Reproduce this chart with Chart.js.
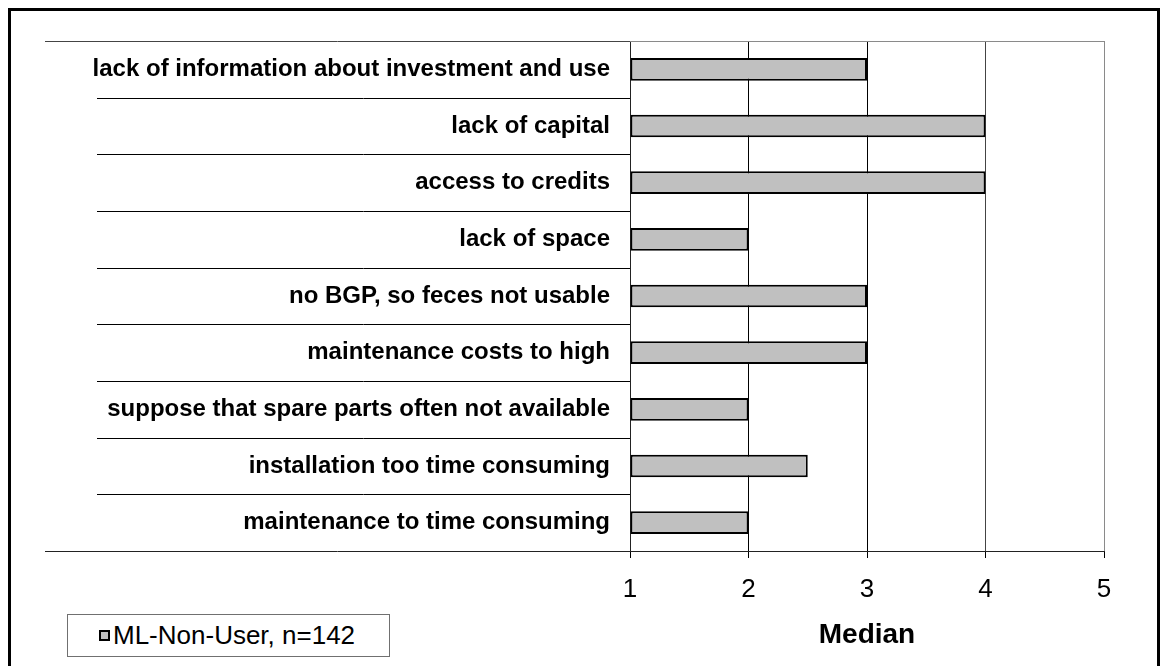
<!DOCTYPE html>
<html>
<head>
<meta charset="utf-8">
<script src="https://cdn.jsdelivr.net/npm/chart.js@4.4.1/dist/chart.umd.min.js"></script>
<style>
  html, body { margin: 0; padding: 0; background: #fff; }
  #wrap { position: relative; width: 1160px; height: 666px; overflow: hidden; background: #fff; }
  #frame { position: absolute; left: 8px; top: 8px; width: 1152px; height: 700px; border: 3px solid #000; box-sizing: border-box; pointer-events: none; }
  canvas { position: absolute; left: 0; top: 0; }
  #legend { position: absolute; left: 67px; top: 614px; width: 323px; height: 43px; box-sizing: border-box;
            border: 1px solid #707070; font: 26px "Liberation Sans", Arial, sans-serif; color: #000;
            display: flex; align-items: center; background: #fff; white-space: nowrap; }
  #legend .sw { width: 11px; height: 11px; box-sizing: border-box; border: 2px solid #000; background: #c0c0c0; margin-left: 31px; margin-right: 3px; flex: none; }
</style>
</head>
<body>
<div id="wrap">
  <canvas id="c" width="1160" height="666"></canvas>
  <div id="frame"></div>
  <div id="legend"></div>
</div>
<script>
// ---- data ----
const categories = [
  "lack of information about investment and use",
  "lack of capital",
  "access to credits",
  "lack of space",
  "no BGP, so feces not usable",
  "maintenance costs to high",
  "suppose that spare parts often not available",
  "installation too time consuming",
  "maintenance to time consuming"
];
const medianValues = [3, 4, 4, 2, 3, 3, 2, 2.5, 2];
const seriesLabel = "ML-Non-User, n=142";
const axisTitle = "Median";
const xMin = 1;
const xMax = 5;
const xStep = 1;

const FONT = '"Liberation Sans", Arial, sans-serif';

// legend (HTML, real text)
const leg = document.getElementById('legend');
const sw = document.createElement('span'); sw.className = 'sw';
const lt = document.createElement('span'); lt.textContent = seriesLabel;
leg.appendChild(sw); leg.appendChild(lt);

const frameLines = {
  id: 'frameLines',
  afterDraw(chart) {
    const { ctx, chartArea: a, scales: { y } } = chart;
    ctx.save();
    ctx.lineWidth = 1;
    const n = categories.length;
    // category separators left of plot
    ctx.strokeStyle = '#000';
    for (let i = 1; i < n; i++) {
      const b = (y.getPixelForValue(i - 1) + y.getPixelForValue(i)) / 2;
      const yy = Math.round(b) + 0.5;
      ctx.beginPath(); ctx.moveTo(97, yy); ctx.lineTo(a.left, yy); ctx.stroke();
    }
    // top line
    const t = Math.round(a.top) + 0.5;
    ctx.strokeStyle = '#444';
    ctx.beginPath(); ctx.moveTo(45, t); ctx.lineTo(a.left, t); ctx.stroke();
    ctx.strokeStyle = '#8a8a8a';
    ctx.beginPath(); ctx.moveTo(a.left, t); ctx.lineTo(a.right, t); ctx.stroke();
    // bottom line extension
    const bt = Math.round(a.bottom) + 0.5;
    ctx.strokeStyle = '#222';
    ctx.beginPath(); ctx.moveTo(45, bt); ctx.lineTo(a.left, bt); ctx.stroke();
    ctx.restore();
  }
};

const gridColors = { 1: '#000', 2: '#000', 3: '#000', 4: '#444', 5: '#8a8a8a' };

new Chart(document.getElementById('c'), {
  type: 'bar',
  data: {
    labels: categories,
    datasets: [{
      label: seriesLabel,
      data: medianValues,
      base: xMin,
      backgroundColor: '#c0c0c0',
      borderColor: '#000',
      borderWidth: 2,
      borderSkipped: false,
      barPercentage: 0.4,
      categoryPercentage: 1.0
    }]
  },
  options: {
    indexAxis: 'y',
    responsive: false,
    animation: false,
    devicePixelRatio: 1,
    layout: { padding: { left: 0, top: 41, right: 56, bottom: 14 } },
    plugins: { legend: { display: false }, tooltip: { enabled: false }, title: { display: false } },
    scales: {
      x: {
        type: 'linear',
        position: 'bottom',
        min: xMin, max: xMax,
        afterFit(s) { s.height = 101; },
        ticks: {
          stepSize: xStep,
          color: '#000',
          padding: 16,
          font: { family: FONT, size: 26, weight: 'normal' },
          callback: v => String(v)
        },
        grid: {
          display: true,
          drawOnChartArea: true,
          drawTicks: true,
          tickLength: 7,
          lineWidth: 1,
          color: ctx => gridColors[ctx.tick && ctx.tick.value] || '#000',
          tickColor: '#000'
        },
        border: { display: true, color: '#222', width: 1 },
        title: {
          display: true,
          text: axisTitle,
          color: '#000',
          padding: { top: 0, bottom: 0 },
          font: { family: FONT, size: 28, weight: 'bold' }
        }
      },
      y: {
        type: 'category',
        position: 'left',
        afterFit(s) { s.width = 630; },
        ticks: {
          autoSkip: false,
          color: '#000',
          padding: 20,
          font: { family: FONT, size: 24, weight: 'bold' }
        },
        grid: { display: false, drawTicks: false },
        border: { display: true, color: '#222', width: 1 }
      }
    }
  },
  plugins: [frameLines]
});
</script>
</body>
</html>
